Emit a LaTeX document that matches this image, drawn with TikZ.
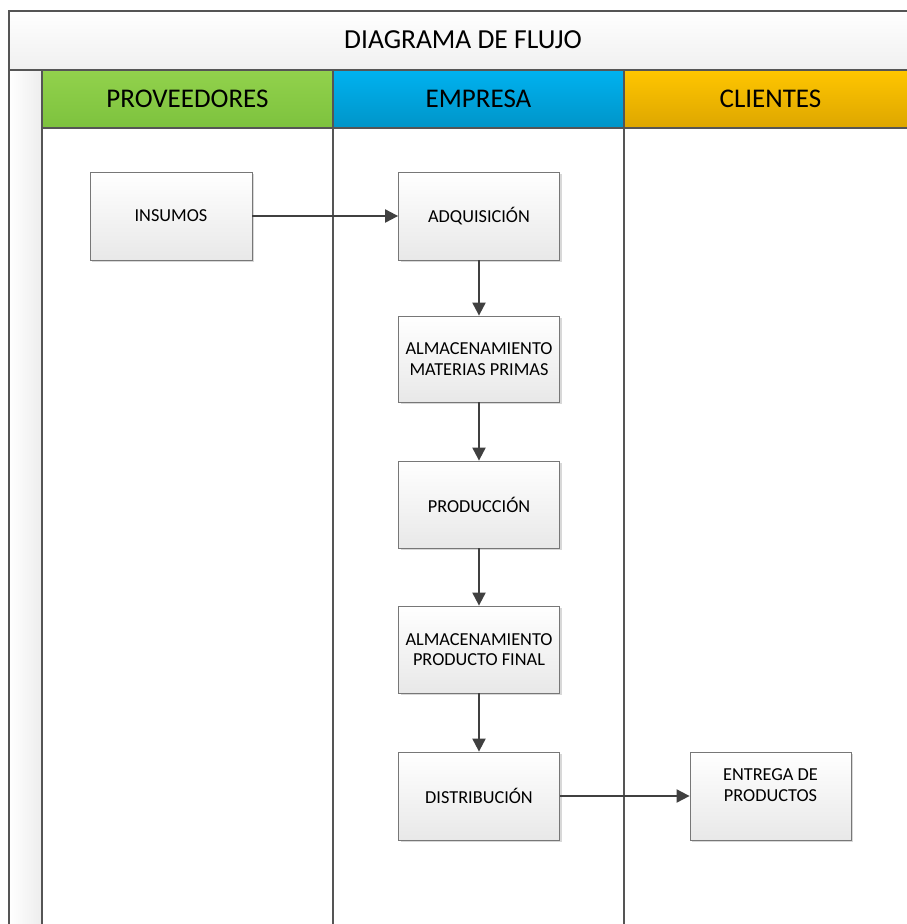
\documentclass[tikz,border=0pt]{standalone}
\usepackage{fontspec}
\setmainfont{Carlito}
\usetikzlibrary{arrows.meta,shadows}
\definecolor{frameC}{HTML}{555555}
\definecolor{arrowC}{HTML}{404040}
\definecolor{greenT}{HTML}{92D24C}
\definecolor{greenB}{HTML}{7DC23E}
\definecolor{blueT}{HTML}{00B2F0}
\definecolor{blueB}{HTML}{0095C8}
\definecolor{orangeT}{HTML}{FFC600}
\definecolor{orangeB}{HTML}{DDA600}
\tikzset{
  frameline/.style={draw=frameC,line width=1.6pt},
  lanehead/.style={frameline,minimum width=291pt,minimum height=58pt,inner sep=0pt,font=\fontsize{27}{32}\selectfont},
  stepbox/.style={draw=frameC!80,line width=0.8pt,top color=white,bottom color=black!9,
     minimum width=161pt,minimum height=87pt,inner sep=0pt,align=center,
     font=\fontsize{18.3}{20.5}\selectfont,
     drop shadow={shadow xshift=2pt,shadow yshift=-2pt,fill=black!25,opacity=0.6}},
  flow/.style={draw=arrowC,line width=2pt,-{Triangle[length=13pt,width=13pt]}}
}
\begin{document}
\begin{tikzpicture}[x=1pt,y=-1pt]
\useasboundingbox (0,0) rectangle (907,924);
\clip (0,0) rectangle (907,924);
\fill[white] (0,0) rectangle (907,924);
% title band
\shade[top color=white,bottom color=black!6] (9,11) rectangle (917,70);
\draw[frameline] (9,11) rectangle (917,70);
\node[font=\fontsize{27.5}{32}\selectfont] (title) at (463,40) {DIAGRAMA DE FLUJO};
% left strip
\shade[left color=white,right color=black!7] (9,70) rectangle (42,940);
\draw[frameline] (9,70) rectangle (42,940);
% lane bodies
\draw[frameline] (42,128) rectangle (333,940);
\draw[frameline] (333,128) rectangle (624,940);
\draw[frameline] (624,128) rectangle (917,940);
% lane headers
\node[lanehead,top color=greenT,bottom color=greenB] (hprov) at (187.5,99) {PROVEEDORES};
\node[lanehead,top color=blueT,bottom color=blueB] (hemp) at (478.5,99) {EMPRESA};
\node[lanehead,top color=orangeT,bottom color=orangeB,minimum width=293pt] (hcli) at (770.5,99) {CLIENTES};
% boxes
\node[stepbox,minimum width=162pt,minimum height=88pt] (ins) at (171,216) {INSUMOS};
\node[stepbox,minimum height=88pt] (adq) at (479,216) {ADQUISICIÓN};
\node[stepbox,minimum height=86pt] (amp) at (479,359) {ALMACENAMIENTO\\MATERIAS PRIMAS};
\node[stepbox] (prod) at (479,504.5) {PRODUCCIÓN};
\node[stepbox] (apf) at (479,649.5) {ALMACENAMIENTO\\PRODUCTO FINAL};
\node[stepbox,minimum height=88pt] (dist) at (479,796) {DISTRIBUCIÓN};
\node[stepbox,minimum height=88pt,label={[anchor=north,inner sep=0pt,font=\fontsize{18.3}{21}\selectfont,align=center,yshift=-17pt]north:ENTREGA DE\\PRODUCTOS}] (ent) at (770.5,796) {};
% connectors
\draw[flow] (ins) -- (adq);
\draw[flow] (adq) -- (amp);
\draw[flow] (amp) -- (prod);
\draw[flow] (prod) -- (apf);
\draw[flow] (apf) -- (dist);
\draw[flow] (dist) -- (ent);
\end{tikzpicture}
\end{document}
